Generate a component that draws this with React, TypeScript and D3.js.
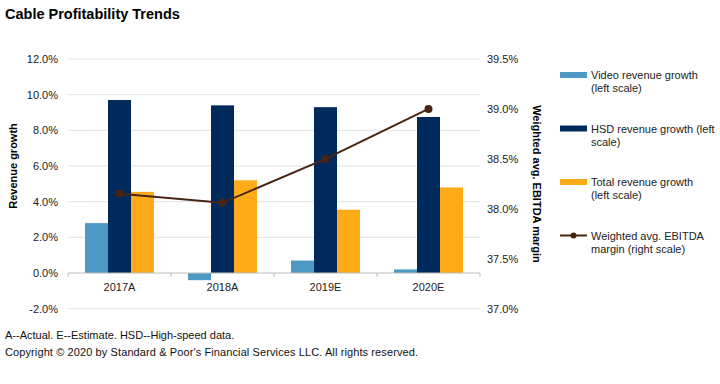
import React from "react";
import * as d3 from "d3";

const categories = ["2017A", "2018A", "2019E", "2020E"];
const videoGrowth = [2.8, -0.4, 0.7, 0.2];
const hsdGrowth = [9.7, 9.4, 9.3, 8.75];
const totalGrowth = [4.55, 5.2, 3.55, 4.8];
const ebitdaMargin = [38.15, 38.06, 38.5, 39.0];
const leftTicks = [-2, 0, 2, 4, 6, 8, 10, 12];
const rightTicks = [37.0, 37.5, 38.0, 38.5, 39.0, 39.5];
const seriesNames = [
  ["Video revenue growth", "(left scale)"],
  ["HSD revenue growth (left", "scale)"],
  ["Total revenue growth", "(left scale)"],
  ["Weighted avg. EBITDA", "margin (right scale)"],
];
const colors = ["#4e99c3", "#002a5c", "#fdab19", "#4a2412"];

const W = 720, H = 384;
const left = 68, right = 480, top = 59, bottom = 308.7;
const font = "'Liberation Sans', Arial, sans-serif";

export default function App() {
  const x = d3.scaleBand<string>().domain(categories).range([left, right]);
  const yL = d3.scaleLinear().domain([-2, 12]).range([bottom, top]);
  const yR = d3.scaleLinear().domain([37, 39.5]).range([bottom, top]);
  const barW = 23;
  const seriesVals = [videoGrowth, hsdGrowth, totalGrowth];
  const line = d3
    .line<number>()
    .x((_, i) => x(categories[i])! + x.bandwidth() / 2)
    .y((d) => yR(d));
  const legendY = [75, 128.5, 182, 235.5];

  return (
    <svg width={W} height={H} style={{ position: "absolute", left: 0, top: 0, background: "#fff" }} fontFamily={font}>
      <text x={5} y={19} fontSize={14.5} fontWeight="bold" fill="#000">Cable Profitability Trends</text>
      {leftTicks.map((t) => (
        <g key={t}>
          {t !== 0 && (
            <line x1={left} x2={right} y1={yL(t)} y2={yL(t)} stroke="#e3e3e3" strokeWidth={1} />
          )}
          <text x={58} y={yL(t) + 4} fontSize={11} textAnchor="end" fill="#222">
            {t.toFixed(1)}%
          </text>
        </g>
      ))}
      {rightTicks.map((t) => (
        <text key={t} x={487} y={yR(t) + 4} fontSize={11} fill="#222">
          {t.toFixed(1)}%
        </text>
      ))}
      {seriesVals.map((vals, s) =>
        vals.map((v, i) => {
          const cx = x(categories[i])! + x.bandwidth() / 2;
          const bx = cx - 1.5 * barW + s * barW;
          const y0 = yL(0), y1 = yL(v);
          return (
            <rect key={`${s}-${i}`} x={bx} y={Math.min(y0, y1)} width={barW} height={Math.abs(y1 - y0)} fill={colors[s]} />
          );
        })
      )}
      <line x1={left} x2={right} y1={yL(0)} y2={yL(0)} stroke="#bdbdbd" strokeWidth={1} />
      {categories.map((c, i) => (
        <g key={c}>
          <line x1={x(c)!} x2={x(c)!} y1={yL(0)} y2={yL(0) + 4} stroke="#bdbdbd" />
          <text x={x(c)! + x.bandwidth() / 2} y={291} fontSize={11} textAnchor="middle" fill="#222">{c}</text>
        </g>
      ))}
      <line x1={right} x2={right} y1={yL(0)} y2={yL(0) + 4} stroke="#bdbdbd" />
      <path d={line(ebitdaMargin)!} fill="none" stroke={colors[3]} strokeWidth={2} />
      {ebitdaMargin.map((v, i) => (
        <circle key={i} cx={x(categories[i])! + x.bandwidth() / 2} cy={yR(v)} r={4} fill={colors[3]} />
      ))}
      <text transform={`translate(17,166) rotate(-90)`} fontSize={11} fontWeight="bold" textAnchor="middle" fill="#000">Revenue growth</text>
      <text transform={`translate(533,184) rotate(90)`} fontSize={11} fontWeight="bold" textAnchor="middle" fill="#000">Weighted avg. EBITDA margin</text>
      {seriesNames.map((n, i) => (
        <g key={i}>
          {i < 3 ? (
            <rect x={560} y={legendY[i] - 3} width={27} height={6} fill={colors[i]} />
          ) : (
            <g>
              <line x1={560} x2={587} y1={legendY[i]} y2={legendY[i]} stroke={colors[3]} strokeWidth={2} />
              <circle cx={573.5} cy={legendY[i]} r={3} fill={colors[3]} />
            </g>
          )}
          <text x={591} y={legendY[i] + 4} fontSize={11} fill="#222">{n[0]}</text>
          <text x={591} y={legendY[i] + 17} fontSize={11} fill="#222">{n[1]}</text>
        </g>
      ))}
      <text x={5} y={339} fontSize={11} fill="#111">A--Actual. E--Estimate. HSD--High-speed data.</text>
      <text x={5} y={356} fontSize={11} fill="#111" textLength={413} lengthAdjust="spacing">Copyright © 2020 by Standard &amp; Poor's Financial Services LLC. All rights reserved.</text>
    </svg>
  );
}
